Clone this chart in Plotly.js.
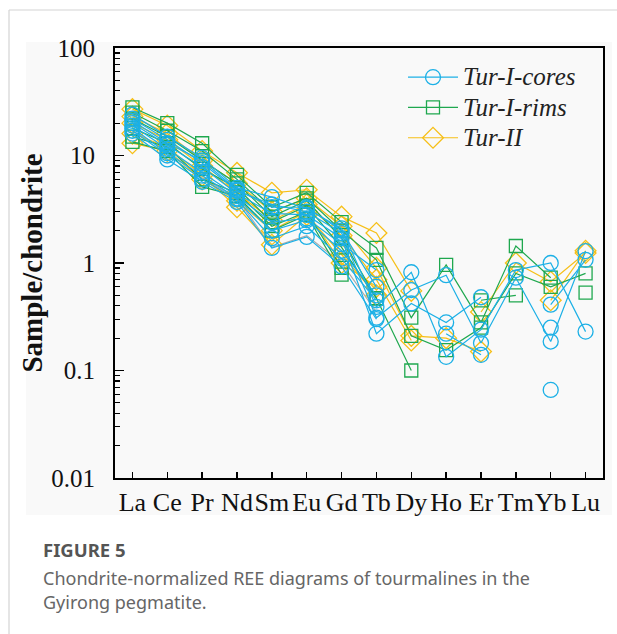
<!DOCTYPE html>
<html>
<head>
<meta charset="utf-8">
<script src="https://cdn.plot.ly/plotly-3.0.1.min.js"></script>
<style>
  html, body { margin: 0; padding: 0; background: #ffffff; }
  #chart { width: 617px; height: 634px; }
</style>
</head>
<body>
<div id="chart"></div>
<script>
// REE categories (x axis)
const elements = ["La","Ce","Pr","Nd","Sm","Eu","Gd","Tb","Dy","Ho","Er","Tm","Yb","Lu"];
const yTickVals = [0.01, 0.1, 1, 10, 100];
const yTickText = ["0.01", "0.1", "1", "10", "100"];

// Tur-I-cores (chondrite-normalised), one array per analysis
const core1 = [24, 15, 9.5, 5.0, 4.1, 3.2, 2.1, 0.39, 0.82, 0.134, 0.24, 0.86, 1.0, 0.23];
const core2 = [22, 14, 8.5, 4.7, 3.5, 3.0, 1.9, 0.31, 0.56, 0.77, 0.18, 0.73, 0.186, 1.29];
const core3 = [20, 12.5, 7.8, 4.4, 2.9, 2.8, 1.7, 0.22, 0.42, 0.28, 0.48, null, 0.41, 1.07];
const core4 = [19, 11.5, 7.0, 4.2, 2.4, 2.6, 1.5, 0.86, null, 0.22, 0.14, null, 0.25, null];
const core5 = [18, 10.5, 6.5, 4.0, 2.0, 2.5, 1.3, 0.5, null, null, null, null, 0.066, null];
const core6 = [17, 10, 6.0, 3.9, 1.7, 2.2, 1.1, 0.45, null, null, null, null, null, null];
const core7 = [16, 9.2, 5.7, 3.7, 1.38, 1.75, 0.93, 0.3, null, null, null, null, null, null];
const core8 = [21, 13, 9.0, 4.8, 3.3, 3.3, 2.0, 0.6, null, null, null, null, null, null];

// Tur-I-rims
const rim1 = [28, 20, 13, 6.6, 3.3, 4.5, 2.4, 1.38, 0.31, 0.96, 0.28, 1.44, 0.73, null];
const rim2 = [25, 17, 11, 6.0, 3.0, 4.0, 2.0, 1.07, 0.21, 0.155, 0.25, 0.8, 0.6, 0.8];
const rim3 = [22, 15, 9.0, 5.5, 2.7, 3.8, 1.7, 0.47, 0.10, null, 0.45, 0.5, null, 0.53];
const rim4 = [18, 13, 7.5, 5.0, 2.4, 3.4, 1.4, 0.47, null, null, null, null, null, null];
const rim5 = [15, 12, 6.0, 4.5, 2.2, 3.0, 0.9, null, null, null, null, null, null, null];
const rim6 = [13.4, 11, 5.1, 4.2, 2.0, 2.8, 0.78, null, null, null, null, null, null, null];

// Tur-II
const tur2a = [27, 19, 11, 6.9, 4.5, 4.8, 2.7, 1.9, 0.55, null, 0.35, 1.0, 0.67, 1.24];
const tur2b = [23, 16, 9.0, 5.5, 3.0, 4.0, 2.2, 0.9, 0.21, 0.2, 0.15, null, 0.45, 1.3];
const tur2c = [20, 14, 8.0, 4.5, 2.5, 3.5, 1.8, 0.7, 0.19, null, null, null, null, null];
const tur2d = [16, 12, 6.5, 3.3, 1.48, 2.8, 1.2, 0.5, null, null, null, null, null, null];
const tur2e = [13, 11, 6.0, 3.8, 2.0, 3.0, 1.0, 0.6, null, null, null, null, null, null];

// one grey analysis
const grey1 = [17, 11, 6.2, 4.0, 1.4, 1.8, 1.0, 0.35, null, null, null, null, null, null];

const coreSeries = [core1, core2, core3, core4, core5, core6, core7, core8];
const rimSeries = [rim1, rim2, rim3, rim4, rim5, rim6];
const tur2Series = [tur2a, tur2b, tur2c, tur2d, tur2e];

const BLUE = "#1cb0e6", GREEN = "#1fa84f", YELLOW = "#f6bf17";

function mk(vals, name, color, symbol, size, first, rank) {
  return {
    x: elements, y: vals, type: "scatter", mode: "lines+markers",
    name: "<i><span style='font-size:25px'>" + name + "</span></i>",
    legendgroup: name, showlegend: first, legendrank: rank,
    line: {color: color, width: 1.2},
    marker: {symbol: symbol, size: size, color: color, line: {color: color, width: 1.3}},
    connectgaps: false, hoverinfo: "skip"
  };
}

const traces = [];
traces.push({x: elements, y: grey1, type: "scatter", mode: "lines", showlegend: false,
  line: {color: "#aaaaaa", width: 1.2}, hoverinfo: "skip"});
tur2Series.forEach((s, i) => traces.push(mk(s, "Tur-II", YELLOW, "diamond-open", 16, i === 0, 3)));
rimSeries.forEach((s, i) => traces.push(mk(s, "Tur-I-rims", GREEN, "square-open", 13, i === 0, 2)));
coreSeries.forEach((s, i) => traces.push(mk(s, "Tur-I-cores", BLUE, "circle-open", 15, i === 0, 1)));

const L = 115, R = 603, T = 48, B = 478;
const W = 617, H = 634;
const px = (x) => (x - L) / (R - L);
const py = (y) => (B - y) / (B - T);

const serif = "Liberation Serif, Times New Roman, serif";
const sans = "Noto Sans, Open Sans, sans-serif";

const layout = {
  width: W, height: H,
  margin: {l: L, r: W - R, t: T, b: H - B},
  paper_bgcolor: "#ffffff",
  plot_bgcolor: "rgba(0,0,0,0)",
  showlegend: true,
  legend: {
    x: px(403), y: py(57), xanchor: "left", yanchor: "top",
    bgcolor: "rgba(0,0,0,0)", borderwidth: 0,
    font: {family: serif, size: 21, color: "#222"},
    itemwidth: 50, tracegroupgap: 0
  },
  xaxis: {
    type: "category", range: [-0.5, 13.5],
    showline: true, linecolor: "#000", linewidth: 2, mirror: true,
    ticks: "inside", ticklen: 6, tickwidth: 1.5, tickcolor: "#000",
    showgrid: false, zeroline: false, tickangle: 0,
    tickfont: {family: serif, size: 26, color: "#111"},
    ticklabelstandoff: 0
  },
  yaxis: {
    type: "log", range: [-2, 2],
    tickvals: yTickVals, ticktext: yTickText,
    showline: true, linecolor: "#000", linewidth: 2, mirror: true,
    ticks: "inside", ticklen: 9, tickwidth: 1.5, tickcolor: "#000",
    minor: {ticks: "inside", ticklen: 5, tickwidth: 1.2, tickcolor: "#000", dtick: "D1", showgrid: false},
    showgrid: false, zeroline: false,
    tickfont: {family: serif, size: 25, color: "#111"},
    ticklabelstandoff: 13,
    title: {text: "<b>Sample/chondrite</b>", font: {family: serif, size: 29, color: "#111"}, standoff: 0}
  },
  shapes: [
    {type: "rect", xref: "paper", yref: "paper", x0: px(26), x1: px(612), y0: py(515), y1: py(42),
     fillcolor: "#f9f9f9", line: {width: 0}, layer: "below"},
    {type: "line", xref: "paper", yref: "paper", x0: px(9), x1: px(9), y0: py(10), y1: py(634),
     line: {color: "#d4d4d4", width: 1.2}, layer: "below"},
    {type: "line", xref: "paper", yref: "paper", x0: px(9), x1: px(617), y0: py(10), y1: py(10),
     line: {color: "#d4d4d4", width: 1.2}, layer: "below"}
  ],
  annotations: [
    {xref: "paper", yref: "paper", x: px(41), y: py(549), xanchor: "left", yanchor: "middle",
     text: "<b>FIGURE 5</b>", showarrow: false, font: {family: sans, size: 18.5, color: "#555"}},
    {xref: "paper", yref: "paper", x: px(41), y: py(578), xanchor: "left", yanchor: "middle",
     text: "Chondrite-normalized REE diagrams of tourmalines in the", showarrow: false,
     font: {family: sans, size: 18, color: "#666"}},
    {xref: "paper", yref: "paper", x: px(41), y: py(602), xanchor: "left", yanchor: "middle",
     text: "Gyirong pegmatite.", showarrow: false,
     font: {family: sans, size: 18, color: "#666"}}
  ]
};

Plotly.newPlot("chart", traces, layout, {displayModeBar: false, staticPlot: true});
</script>
</body>
</html>
